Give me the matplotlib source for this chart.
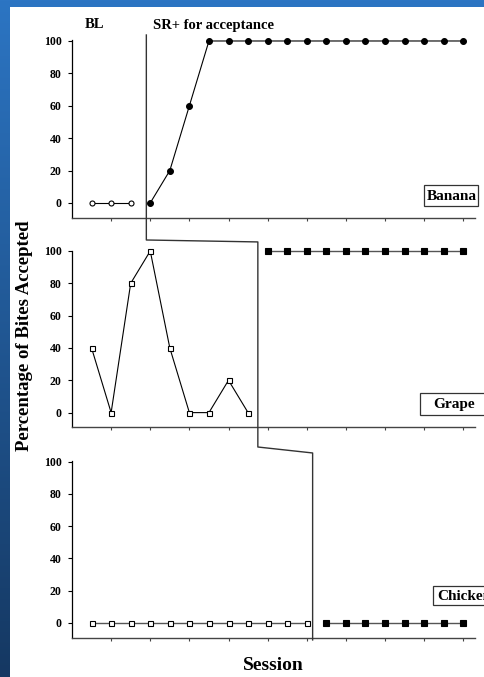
import numpy as np
import matplotlib
matplotlib.use("Agg")
import matplotlib.pyplot as plt
from matplotlib.lines import Line2D
from matplotlib.patches import Rectangle

plt.rcParams["font.family"] = ["Liberation Serif", "DejaVu Serif"]
plt.rcParams["font.weight"] = "bold"

# ---- data (percentage of bites accepted per session) ----
banana_bl_sessions = [1, 2, 3]
banana_bl = [0, 0, 0]
banana_tx_sessions = [4, 5, 6, 7, 8, 9, 10, 11, 12, 13, 14, 15, 16, 17, 18, 19, 20]
banana_tx = [0, 20, 60, 100, 100, 100, 100, 100, 100, 100, 100, 100, 100, 100, 100, 100, 100]

grape_bl_sessions = [1, 2, 3, 4, 5, 6, 7, 8, 9]
grape_bl = [40, 0, 80, 100, 40, 0, 0, 20, 0]
grape_tx_sessions = [10, 11, 12, 13, 14, 15, 16, 17, 18, 19, 20]
grape_tx = [100, 100, 100, 100, 100, 100, 100, 100, 100, 100, 100]

chicken_bl_sessions = [1, 2, 3, 4, 5, 6, 7, 8, 9, 10, 11, 12]
chicken_bl = [0, 0, 0, 0, 0, 0, 0, 0, 0, 0, 0, 0]
chicken_tx_sessions = [13, 14, 15, 16, 17, 18, 19, 20]
chicken_tx = [0, 0, 0, 0, 0, 0, 0, 0]

# phase-change positions (between sessions) for each food
phase_changes = [3.8, 9.5, 12.3]

food_names = ["Banana", "Grape", "Chicken"]
y_ticks = [0, 20, 40, 60, 80, 100]
x_ticks = [2, 4, 6, 8, 10, 12, 14, 16, 18, 20]

W, H = 484, 677
fig = plt.figure(figsize=(W / 100, H / 100), dpi=100)
fig.patch.set_facecolor("white")

def fx(px):
    return px / W

def fy(py):
    return 1 - py / H

# slide background: blue gradient band on the left and top
bg = fig.add_axes([0, 0, 1, 1], zorder=-10)
top_c = np.array([44, 117, 195]) / 255
bot_c = np.array([21, 56, 98]) / 255
t = np.linspace(0, 1, H)[:, None, None]
img = np.ones((H, W, 3)) * (top_c * (1 - t) + bot_c * t)
img[7:, 10:, :] = 1.0
bg.imshow(img, aspect="auto", interpolation="nearest")
bg.set_axis_off()

left, right = 72, 475
panel_px = [(40.5, 218), (250.5, 427), (461.2, 638)]
ylims = [(-9.3, 100.3), (-8.9, 100.3), (-9.3, 100.3)]
axes = []
for (top, bottom), yl in zip(panel_px, ylims):
    ax = fig.add_axes([fx(left), fy(bottom), fx(right - left), fy(top) - fy(bottom)])
    ax.set_xlim(0, 20.6)
    ax.set_ylim(*yl)
    ax.set_facecolor("none")
    for s in ["top", "right"]:
        ax.spines[s].set_visible(False)
    ax.spines["left"].set_color("black")
    ax.spines["left"].set_linewidth(0.9)
    ax.spines["bottom"].set_color("#444444")
    ax.spines["bottom"].set_linewidth(1.0)
    ax.set_yticks(y_ticks)
    ax.set_xticks(x_ticks)
    ax.set_xticklabels([])
    ax.tick_params(axis="y", direction="out", length=3, width=0.8, pad=4.5,
                   labelsize=8.5)
    ax.tick_params(axis="x", direction="out", length=2.5, width=0.8, color="#444444")
    for lab in ax.get_yticklabels():
        lab.set_fontweight("bold")
    axes.append(ax)

ax1, ax2, ax3 = axes
mk_open = dict(mfc="white", mec="black", mew=0.8, clip_on=False, zorder=3)
mk_fill = dict(mfc="black", mec="black", mew=0.8, clip_on=False, zorder=3)

ax1.plot(banana_bl_sessions, banana_bl, "-o", color="black", lw=0.8, ms=3.6, **mk_open)
ax1.plot(banana_tx_sessions, banana_tx, "-o", color="black", lw=0.8, ms=4.2, **mk_fill)

ax2.plot(grape_bl_sessions, grape_bl, "-s", color="black", lw=0.8, ms=3.6, **mk_open)
ax2.plot(grape_tx_sessions, grape_tx, "-s", color="#555555", lw=1.0, ms=4.2, **mk_fill)

ax3.plot(chicken_bl_sessions, chicken_bl, "-s", color="#555555", lw=1.0, ms=3.6, **mk_open)
ax3.plot(chicken_tx_sessions, chicken_tx, "-s", color="#555555", lw=1.0, ms=4.2, **mk_fill)

# staircase phase-change line across the three panels
p1, p2, p3 = phase_changes
pts = [
    (ax1, p1, 103.7),
    (ax2, p1, 106.8),
    (ax2, p2, 105.6),
    (ax3, p2, 109.1),
    (ax3, p3, 105.4),
    (ax3, p3, -10.5),
]
inv = fig.transFigure.inverted()
xy = np.array([inv.transform(a.transData.transform((x, y))) for a, x, y in pts])
fig.add_artist(Line2D(xy[:, 0], xy[:, 1], color="#333333", lw=1.0,
                      transform=fig.transFigure, zorder=5))

# phase labels
fig.text(fx(94), fy(25), "BL", ha="center", va="center", fontsize=10.5,
         fontweight="bold")
fig.text(fx(153), fy(25), "SR+ for acceptance", ha="left", va="center",
         fontsize=10.5, fontweight="bold")

# food labels in boxes (boxes run off the right edge of the slide)
label_boxes = [
    (food_names[0], 424, 185, 478, 206, 427),
    (food_names[1], 420, 393, 500, 415, 433),
    (food_names[2], 433, 586, 510, 605, 437),
]
for name, x0, y0, x1, y1, tx in label_boxes:
    fig.add_artist(Rectangle((fx(x0), fy(y1)), fx(x1 - x0), fy(y0) - fy(y1),
                             transform=fig.transFigure, fc="white",
                             ec="#333333", lw=0.9, zorder=6))
    fig.text(fx(tx), fy((y0 + y1) / 2 + 0.5), name, ha="left", va="center",
             fontsize=11, fontweight="bold", zorder=7)

# axis titles
fig.text(fx(25), fy(336), "Percentage of Bites Accepted", rotation=90,
         ha="center", va="center", fontsize=13.5, fontweight="bold")
fig.text(fx(273), fy(665), "Session", ha="center", va="center", fontsize=14,
         fontweight="bold")

fig.savefig("out.png", dpi=100, facecolor="white")
